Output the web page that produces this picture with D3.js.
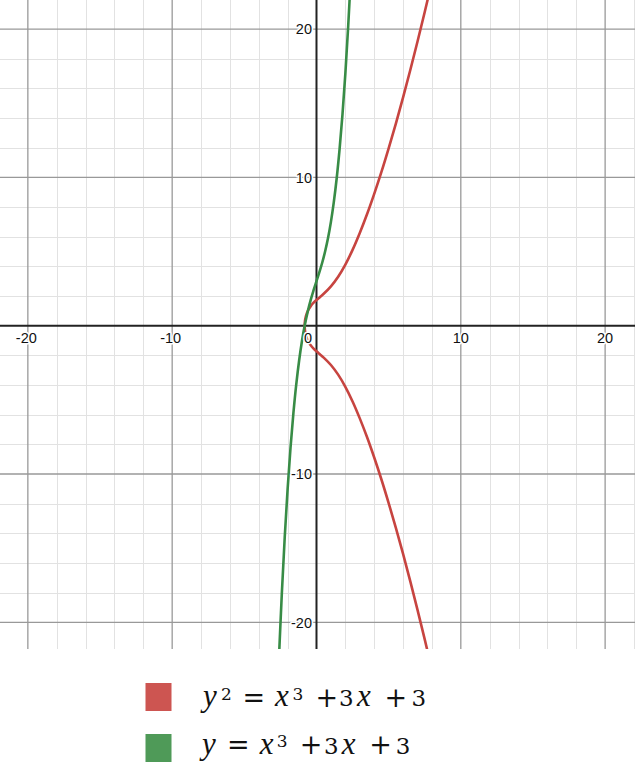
<!DOCTYPE html>
<html><head><meta charset="utf-8">
<script src="https://cdn.jsdelivr.net/npm/d3@7"></script>
<style>html,body{margin:0;padding:0;background:#fff;}svg{display:block;}</style>
</head><body>
<svg id="c" width="635" height="777"></svg>
<script>
// ---- data ----
const xTickLabels = [-20, -10, 10, 20];
const yTickLabels = [20, 10, -10, -20];
const greenX = [-2.6,-2.4,-2.2,-2.0,-1.8,-1.6,-1.4,-1.2,-1.0,-0.8,-0.6,-0.4,-0.2,0,0.2,0.4,0.6,0.8,1.0,1.2,1.4,1.6,1.8,2.0,2.2,2.4];
const greenY = [-22.38,-18.02,-14.25,-11.0,-8.23,-5.90,-3.94,-2.33,-1.0,0.09,0.98,1.74,2.39,3.0,3.61,4.26,5.02,5.91,7.0,8.33,9.94,11.90,14.23,17.0,20.25,24.02];
// red curve y^2 = x^3+3x+3, traced as one path: upper branch (top to vertex) then lower branch
const redX = [8,7.5,7,6.5,6,5.5,5,4.5,4,3.5,3,2.5,2,1.5,1,0.5,0.25,0,-0.2,-0.4,-0.5,-0.6,-0.7,-0.75,-0.78,-0.8,-0.81,-0.815,-0.817,-0.8177,
              -0.817,-0.815,-0.81,-0.8,-0.78,-0.75,-0.7,-0.6,-0.5,-0.4,-0.2,0,0.25,0.5,1,1.5,2,2.5,3,3.5,4,4.5,5,5.5,6,6.5,7,7.5,8];
const redY = [23.22,21.15,19.16,17.24,15.39,13.63,11.96,10.37,8.89,7.51,6.25,5.11,4.12,3.30,2.65,2.15,1.94,1.73,1.55,1.32,1.17,0.99,0.75,0.57,0.43,0.30,0.20,0.12,0.06,0,
              -0.06,-0.12,-0.20,-0.30,-0.43,-0.57,-0.75,-0.99,-1.17,-1.32,-1.55,-1.73,-1.94,-2.15,-2.65,-3.30,-4.12,-5.11,-6.25,-7.51,-8.89,-10.37,-11.96,-13.63,-15.39,-17.24,-19.16,-21.15,-23.22];
// legend labels: y² = x³ + 3x + 3  and  y = x³ + 3x + 3, split into glyph runs
const legendGlyphs = [
  [["y","i"],["2","s"],["=","o"],["x","i"],["3","s"],["+","o"],["3","d"],["x","i"],["+","o"],["3","d"]],
  [["y","i"],["=","o"],["x","i"],["3","s"],["+","o"],["3","d"],["x","i"],["+","o"],["3","d"]]
];

// ---- drawing ----
const W = 635, PH = 649;
const svg = d3.select("#c");
const x = d3.scaleLinear().domain([-21.93, 22.07]).range([0, W]);
const y = d3.scaleLinear().domain([21.96, -21.8]).range([0, PH]);

svg.append("defs").append("clipPath").attr("id","clip")
  .append("rect").attr("x",0).attr("y",0).attr("width",W).attr("height",PH);

const g = svg.append("g").attr("clip-path","url(#clip)");

const minorVals = d3.range(-22, 23, 2).filter(v => v % 10 !== 0);
const majorVals = [-20,-10,10,20];

g.selectAll("line.mx").data(minorVals).join("line").attr("class","mx")
  .attr("x1", d=>Math.round(x(d))+0.5).attr("x2", d=>Math.round(x(d))+0.5).attr("y1",0).attr("y2",PH)
  .attr("stroke","#e2e2e2").attr("stroke-width",1);
g.selectAll("line.my").data(minorVals).join("line").attr("class","my")
  .attr("y1", d=>Math.round(y(d))+0.5).attr("y2", d=>Math.round(y(d))+0.5).attr("x1",0).attr("x2",W)
  .attr("stroke","#e2e2e2").attr("stroke-width",1);
g.selectAll("line.Mx").data(majorVals).join("line").attr("class","Mx")
  .attr("x1", d=>x(d)).attr("x2", d=>x(d)).attr("y1",0).attr("y2",PH)
  .attr("stroke","#999").attr("stroke-width",1.3);
g.selectAll("line.My").data(majorVals).join("line").attr("class","My")
  .attr("y1", d=>y(d)).attr("y2", d=>y(d)).attr("x1",0).attr("x2",W)
  .attr("stroke","#999").attr("stroke-width",1.3);

// axes
g.append("line").attr("x1",0).attr("x2",W).attr("y1",y(0)).attr("y2",y(0)).attr("stroke","#222").attr("stroke-width",2);
g.append("line").attr("y1",0).attr("y2",PH).attr("x1",x(0)).attr("x2",x(0)).attr("stroke","#222").attr("stroke-width",2);

// curves
const line = d3.line().x(d=>x(d[0])).y(d=>y(d[1])).curve(d3.curveCatmullRom.alpha(0.5));
g.append("path").datum(redX.map((v,i)=>[v, redY[i]]))
  .attr("d", line).attr("fill","none").attr("stroke","#c74440").attr("stroke-width",2.6).attr("stroke-linejoin","round");
g.append("path").datum(greenX.map((v,i)=>[v, greenY[i]]))
  .attr("d", line).attr("fill","none").attr("stroke","#388c46").attr("stroke-width",2.6).attr("stroke-linejoin","round");

// tick labels
const lbl = svg.append("g").attr("font-family","'Liberation Sans', Arial, sans-serif").attr("font-size",14.5).attr("fill","#111")
  .attr("stroke","#fff").attr("stroke-width",3).attr("paint-order","stroke").attr("stroke-linejoin","round");
lbl.selectAll("text.xl").data(xTickLabels).join("text").attr("class","xl")
  .attr("x", d=>x(d) - (d<0?1.5:0)).attr("y", y(0)+17.6).attr("text-anchor","middle").text(d=>d);
lbl.selectAll("text.yl").data(yTickLabels).join("text").attr("class","yl")
  .attr("x", x(0)-4.5).attr("y", d=>y(d)+5.2).attr("text-anchor","end").text(d=>d);
lbl.append("text").attr("x", x(0)-4.5).attr("y", y(0)+17.6).attr("text-anchor","end").text("0");

// legend
const colors = ["#cd5551","#4f9a58"];
const leg = svg.append("g");
const rows = [
  {ry:683, by:706, cx:[210,226.3,253.8,282,297.8,326.7,346.3,363.8,395.7,418.7]},
  {ry:734, by:753.5, cx:[209,238.3,266.7,282.2,311,331.3,348.7,380.5,403]}
];
rows.forEach((r,i)=>{
  leg.append("rect").attr("x",145.5).attr("y",r.ry).attr("width",26).attr("height",28).attr("fill",colors[i]);
  const t = leg.append("text").attr("fill","#111").attr("text-anchor","middle");
  legendGlyphs[i].forEach((gl, k)=>{
    const s = t.append("tspan").attr("x", r.cx[k]).text(gl[0]);
    if (gl[1]==="i") s.style("font-family","'Liberation Serif', serif").style("font-style","italic").style("font-size","31px").attr("y", r.by);
    else if (gl[1]==="s") s.style("font-family","'DejaVu Serif', serif").style("font-size","17px").attr("y", r.by-6.5);
    else if (gl[1]==="o") s.style("font-family","'DejaVu Serif', serif").style("font-size","27px").attr("y", r.by+0.5);
    else s.style("font-family","'DejaVu Serif', serif").style("font-size","23px").attr("y", r.by);
  });
});
</script>
</body></html>
